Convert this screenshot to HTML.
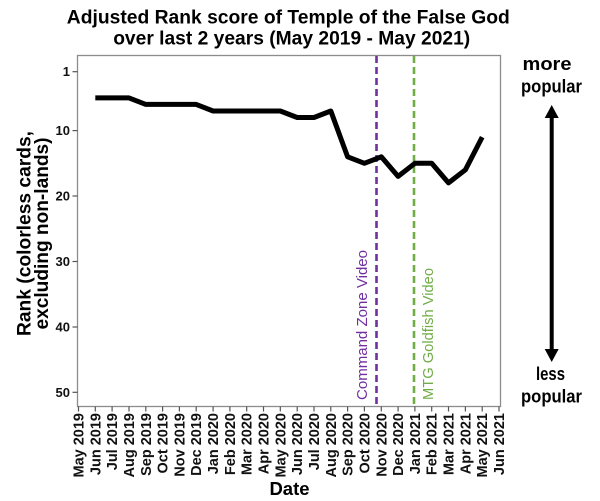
<!DOCTYPE html>
<html>
<head>
<meta charset="utf-8">
<style>
  html,body{margin:0;padding:0;background:#fff;}
  svg{display:block;}
  text{font-family:"Liberation Sans",Arial,sans-serif;}
</style>
</head>
<body>
<svg width="600" height="501" viewBox="0 0 600 501" xmlns="http://www.w3.org/2000/svg">
  <rect x="0" y="0" width="600" height="501" fill="#fff"/>
  <!-- Title -->
  <text x="288.3" y="23.3" font-size="19.5" font-weight="bold" text-anchor="middle" textLength="443" lengthAdjust="spacingAndGlyphs">Adjusted Rank score of Temple of the False God</text>
  <text x="291.7" y="44.3" font-size="19.5" font-weight="bold" text-anchor="middle" textLength="357" lengthAdjust="spacingAndGlyphs">over last 2 years (May 2019 - May 2021)</text>

  <!-- Panel -->
  <rect x="77.5" y="55.5" width="423" height="351" fill="none" stroke="#8c8c8c" stroke-width="1.3"/>

  <!-- Y ticks -->
  <g stroke="#555" stroke-width="1.2">
    <line x1="72.5" y1="71.7" x2="77.5" y2="71.7"/>
    <line x1="72.5" y1="130.6" x2="77.5" y2="130.6"/>
    <line x1="72.5" y1="196.0" x2="77.5" y2="196.0"/>
    <line x1="72.5" y1="261.5" x2="77.5" y2="261.5"/>
    <line x1="72.5" y1="327.0" x2="77.5" y2="327.0"/>
    <line x1="72.5" y1="392.3" x2="77.5" y2="392.3"/>
  </g>
  <g font-size="13" font-weight="bold" text-anchor="end" fill="#111">
    <text x="70" y="76.2">1</text>
    <text x="70" y="135.1">10</text>
    <text x="70" y="200.5">20</text>
    <text x="70" y="266.0">30</text>
    <text x="70" y="331.5">40</text>
    <text x="70" y="396.8">50</text>
  </g>

  <!-- Y axis title -->
  <text transform="translate(30.5,233.5) rotate(-90)" font-size="19" font-weight="bold" text-anchor="middle" textLength="205" lengthAdjust="spacingAndGlyphs">Rank (colorless cards,</text>
  <text transform="translate(48,233.5) rotate(-90)" font-size="19" font-weight="bold" text-anchor="middle" textLength="192" lengthAdjust="spacingAndGlyphs">excluding non-lands)</text>

  <!-- X ticks -->
  <g stroke="#555" stroke-width="1.2">
    <line x1="78.5" y1="406.5" x2="78.5" y2="411.5"/>
    <line x1="95.3" y1="406.5" x2="95.3" y2="411.5"/>
    <line x1="112.1" y1="406.5" x2="112.1" y2="411.5"/>
    <line x1="129.0" y1="406.5" x2="129.0" y2="411.5"/>
    <line x1="145.8" y1="406.5" x2="145.8" y2="411.5"/>
    <line x1="162.6" y1="406.5" x2="162.6" y2="411.5"/>
    <line x1="179.4" y1="406.5" x2="179.4" y2="411.5"/>
    <line x1="196.2" y1="406.5" x2="196.2" y2="411.5"/>
    <line x1="213.1" y1="406.5" x2="213.1" y2="411.5"/>
    <line x1="229.9" y1="406.5" x2="229.9" y2="411.5"/>
    <line x1="246.7" y1="406.5" x2="246.7" y2="411.5"/>
    <line x1="263.5" y1="406.5" x2="263.5" y2="411.5"/>
    <line x1="280.3" y1="406.5" x2="280.3" y2="411.5"/>
    <line x1="297.2" y1="406.5" x2="297.2" y2="411.5"/>
    <line x1="314.0" y1="406.5" x2="314.0" y2="411.5"/>
    <line x1="330.8" y1="406.5" x2="330.8" y2="411.5"/>
    <line x1="347.6" y1="406.5" x2="347.6" y2="411.5"/>
    <line x1="364.4" y1="406.5" x2="364.4" y2="411.5"/>
    <line x1="381.3" y1="406.5" x2="381.3" y2="411.5"/>
    <line x1="398.1" y1="406.5" x2="398.1" y2="411.5"/>
    <line x1="414.9" y1="406.5" x2="414.9" y2="411.5"/>
    <line x1="431.7" y1="406.5" x2="431.7" y2="411.5"/>
    <line x1="448.5" y1="406.5" x2="448.5" y2="411.5"/>
    <line x1="465.4" y1="406.5" x2="465.4" y2="411.5"/>
    <line x1="482.2" y1="406.5" x2="482.2" y2="411.5"/>
    <line x1="499.0" y1="406.5" x2="499.0" y2="411.5"/>
  </g>
  <g font-size="14.5" font-weight="bold" text-anchor="end" fill="#111">
    <text transform="translate(83.5,413) rotate(-90)">May 2019</text>
    <text transform="translate(100.3,413) rotate(-90)">Jun 2019</text>
    <text transform="translate(117.1,413) rotate(-90)">Jul 2019</text>
    <text transform="translate(134.0,413) rotate(-90)">Aug 2019</text>
    <text transform="translate(150.8,413) rotate(-90)">Sep 2019</text>
    <text transform="translate(167.6,413) rotate(-90)">Oct 2019</text>
    <text transform="translate(184.4,413) rotate(-90)">Nov 2019</text>
    <text transform="translate(201.2,413) rotate(-90)">Dec 2019</text>
    <text transform="translate(218.1,413) rotate(-90)">Jan 2020</text>
    <text transform="translate(234.9,413) rotate(-90)">Feb 2020</text>
    <text transform="translate(251.7,413) rotate(-90)">Mar 2020</text>
    <text transform="translate(268.5,413) rotate(-90)">Apr 2020</text>
    <text transform="translate(285.3,413) rotate(-90)">May 2020</text>
    <text transform="translate(302.2,413) rotate(-90)">Jun 2020</text>
    <text transform="translate(319.0,413) rotate(-90)">Jul 2020</text>
    <text transform="translate(335.8,413) rotate(-90)">Aug 2020</text>
    <text transform="translate(352.6,413) rotate(-90)">Sep 2020</text>
    <text transform="translate(369.4,413) rotate(-90)">Oct 2020</text>
    <text transform="translate(386.3,413) rotate(-90)">Nov 2020</text>
    <text transform="translate(403.1,413) rotate(-90)">Dec 2020</text>
    <text transform="translate(419.9,413) rotate(-90)">Jan 2021</text>
    <text transform="translate(436.7,413) rotate(-90)">Feb 2021</text>
    <text transform="translate(453.5,413) rotate(-90)">Mar 2021</text>
    <text transform="translate(470.4,413) rotate(-90)">Apr 2021</text>
    <text transform="translate(487.2,413) rotate(-90)">May 2021</text>
    <text transform="translate(504.0,413) rotate(-90)">Jun 2021</text>
  </g>

  <!-- X axis title -->
  <text x="289.5" y="495" font-size="18.5" font-weight="bold" text-anchor="middle">Date</text>

  <!-- Vertical dashed lines -->
  <line x1="376.5" y1="56" x2="376.5" y2="406" stroke="#7030A0" stroke-width="2.6" stroke-dasharray="7,4"/>
  <line x1="414" y1="56" x2="414" y2="406" stroke="#70AD47" stroke-width="2.6" stroke-dasharray="7,4"/>

  <!-- Data line -->
  <polyline fill="none" stroke="#000" stroke-width="5" stroke-linejoin="round" stroke-linecap="butt"
    points="95.3,97.9 112.1,97.9 129.0,97.9 145.8,104.4 162.6,104.4 179.4,104.4 196.2,104.4 213.1,111.0 229.9,111.0 246.7,111.0 263.5,111.0 280.3,111.0 297.2,117.5 314.0,117.5 330.8,111.0 347.6,156.8 364.4,163.3 381.3,156.8 398.1,176.4 414.9,163.3 431.7,163.3 448.5,182.9 465.4,169.8 482.2,137.1"/>

  <!-- Video labels -->
  <text transform="translate(367,400) rotate(-90)" font-size="15" fill="#7030A0" textLength="150" lengthAdjust="spacingAndGlyphs">Command Zone Video</text>
  <text transform="translate(433,400) rotate(-90)" font-size="15" fill="#70AD47" textLength="132" lengthAdjust="spacingAndGlyphs">MTG Goldfish Video</text>

  <!-- Right side annotation -->
  <text x="547" y="70" font-size="18" font-weight="bold" text-anchor="middle" textLength="49" lengthAdjust="spacingAndGlyphs">more</text>
  <text x="551.5" y="92.7" font-size="18" font-weight="bold" text-anchor="middle" textLength="61" lengthAdjust="spacingAndGlyphs">popular</text>
  <line x1="551.7" y1="116" x2="551.7" y2="351" stroke="#000" stroke-width="4"/>
  <polygon points="551.7,105 544.7,118 558.7,118" fill="#000"/>
  <polygon points="551.7,362 544.7,349 558.7,349" fill="#000"/>
  <text x="550.5" y="380" font-size="18" font-weight="bold" text-anchor="middle" textLength="29" lengthAdjust="spacingAndGlyphs">less</text>
  <text x="551.5" y="402.7" font-size="18" font-weight="bold" text-anchor="middle" textLength="61" lengthAdjust="spacingAndGlyphs">popular</text>
</svg>
</body>
</html>
